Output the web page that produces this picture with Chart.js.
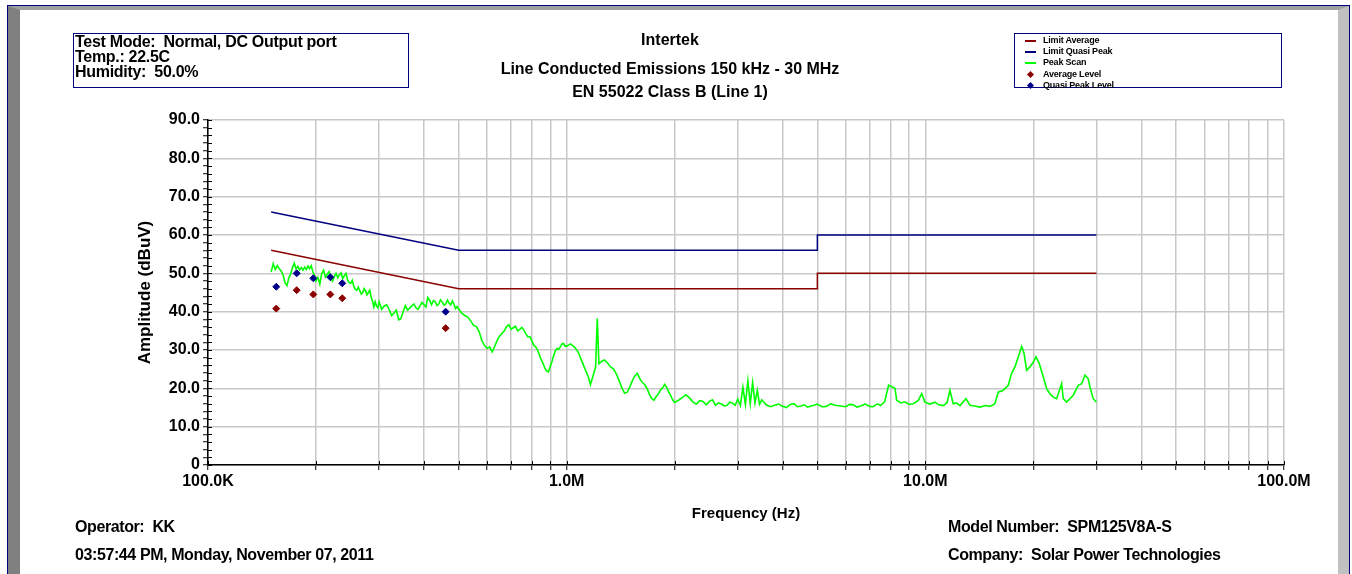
<!DOCTYPE html>
<html>
<head>
<meta charset="utf-8">
<title>Line Conducted Emissions</title>
<script src="https://cdn.jsdelivr.net/npm/chart.js@4.4.0/dist/chart.umd.min.js"></script>
<style>
  html, body { margin: 0; padding: 0; }
  body {
    width: 1352px; height: 574px; overflow: hidden; position: relative; background: #fff;
    font-family: "Liberation Sans", Arial, sans-serif; font-weight: bold; color: #000;
  }
  #frame {
    position: absolute; left: 7px; top: 5px; width: 1343px; height: 620px;
    box-sizing: border-box; border: 1px solid #000080; border-bottom: none;
  }
  #inner {
    position: absolute; left: 0; top: 0; right: 0; bottom: 0; background: #fff;
    border-top: 4px solid #a0a0a0; border-left: 12px solid #808080; border-right: 11px solid #c0c0c0;
  }
  #chart { position: absolute; left: 0; top: 0; }
  .box { position: absolute; border: 1px solid #000080; box-sizing: border-box; }
  #info { left: 73px; top: 33px; width: 336px; height: 55px; }
  #info div { font-size: 16px; line-height: 15px; letter-spacing: -0.3px; padding-left: 1px; white-space: nowrap; }
  .t { position: absolute; font-size: 16px; line-height: 18px; white-space: nowrap; }
  .c { left: 370px; width: 600px; text-align: center; }
  .b { letter-spacing: -0.4px; }
  #legend { left: 1014px; top: 33px; width: 268px; height: 55px; }
  #legend .row { position: absolute; left: 0; height: 11px; width: 260px; font-size: 9px; line-height: 11px; letter-spacing: -0.2px; }
  #legend .sym-line { position: absolute; left: 10px; top: 5px; width: 11px; height: 2px; }
  #legend .sym-dot { position: absolute; left: 13px; top: 3px; width: 5px; height: 5px; transform: rotate(45deg); }
  #legend .lbl { position: absolute; left: 28px; top: 0; white-space: nowrap; }
</style>
</head>
<body>
<div id="frame"><div id="inner"></div></div>
<canvas id="chart" width="1352" height="574"></canvas>

<div class="box" id="info">
  <div>Test Mode:&nbsp; Normal, DC Output port</div>
  <div>Temp.: 22.5C</div>
  <div>Humidity:&nbsp; 50.0%</div>
</div>

<div class="t c" style="top:31px">Intertek</div>
<div class="t c" style="top:60px">Line Conducted Emissions 150 kHz - 30 MHz</div>
<div class="t c" style="top:83px">EN 55022 Class B (Line 1)</div>

<div class="box" id="legend"></div>

<div class="t b" style="left:75px; top:518px">Operator:&nbsp; KK</div>
<div class="t b" style="left:75px; top:546px">03:57:44 PM, Monday, November 07, 2011</div>
<div class="t b" style="left:948px; top:518px">Model Number:&nbsp; SPM125V8A-S</div>
<div class="t b" style="left:948px; top:546px">Company:&nbsp; Solar Power Technologies</div>

<script>
// Peak scan: frequency in kHz, level in dBuV
const scanKHz = [
  150, 152, 154, 156, 158, 160, 162, 164, 166, 168,
  170, 172, 174, 176, 178, 180, 182, 184, 186, 188,
  190, 192, 194, 196, 198, 200, 202.5, 205, 207.5, 210,
  212.5, 215, 217.5, 220, 222.5, 225, 227.5, 230, 232.5, 235,
  237.5, 240, 242.5, 245, 247.5, 250, 252.5, 255, 257.5, 260,
  262.5, 265, 267.5, 270, 272.5, 275, 277.5, 280, 282.5, 285,
  287.5, 290, 292.5, 295, 297.5, 300, 305, 310, 315, 320,
  325, 330, 335, 340, 345, 350, 355, 360, 365, 370,
  375, 380, 385, 390, 395, 400, 405, 410, 415, 420,
  425, 430, 435, 440, 445, 450, 455, 460, 465, 470,
  475, 480, 485, 490, 495, 500, 510, 520, 530, 540,
  550, 560, 570, 580, 590, 600, 610, 620, 630, 640,
  650, 660, 670, 680, 690, 700, 710, 720, 730, 740,
  750, 760, 770, 780, 790, 800, 810, 820, 830, 840,
  850, 860, 870, 880, 890, 900, 910, 920, 930, 940,
  950, 960, 970, 980, 990, 1000, 1025, 1050, 1075, 1100,
  1125, 1150, 1165, 1204, 1217, 1230, 1250, 1275, 1300, 1325,
  1350, 1375, 1400, 1425, 1450, 1475, 1500, 1525, 1550, 1575,
  1600, 1625, 1650, 1675, 1700, 1725, 1750, 1775, 1800, 1825,
  1850, 1875, 1900, 1925, 1950, 1975, 2000, 2050, 2100, 2150,
  2200, 2250, 2300, 2350, 2400, 2450, 2500, 2550, 2600, 2650,
  2700, 2750, 2800, 2850, 2900, 2950, 3000, 3050, 3100, 3150,
  3200, 3250, 3300, 3350, 3400, 3450, 3500, 3600, 3700, 3800,
  3900, 4000, 4100, 4200, 4300, 4400, 4500, 4600, 4700, 4800,
  4900, 5000, 5150, 5300, 5450, 5600, 5800, 6000, 6150, 6300,
  6450, 6600, 6800, 7000, 7150, 7300, 7400, 7500, 7700, 7900,
  8230, 8320, 8550, 8770, 9000, 9250, 9550, 9770, 9970, 10300,
  10640, 10900, 11220, 11500, 11710, 11960, 12200, 12490, 12980, 13310,
  13700, 14200, 14700, 15140, 15630, 15970, 16490, 17030, 17400, 17780,
  18160, 18560, 18840, 19160, 19570, 19990, 20340, 20770, 21320, 21790,
  22250, 22730, 23230, 23990, 24240, 24770, 25300, 25840, 26690, 27280,
  27860, 28460, 28760, 29380, 30000
];
const peakScan = [
  50.3, 52.5, 51.0, 52.0, 51.2, 50.6, 49.5, 47.5, 46.8, 48.8,
  49.8, 51.5, 52.6, 51.2, 51.8, 50.9, 51.5, 50.8, 51.6, 51.0,
  51.9, 51.2, 52.0, 50.4, 49.5, 48.0, 49.0, 47.2, 49.9, 50.8,
  49.0, 49.7, 50.4, 48.6, 48.0, 49.2, 50.0, 48.8, 49.6, 50.1,
  48.6, 49.4, 50.0, 48.3, 47.6, 47.4, 48.2, 46.6, 45.8, 45.6,
  46.4, 45.5, 44.6, 45.0, 46.0, 45.4, 44.4, 45.0, 45.6, 43.8,
  42.8, 41.2, 42.6, 41.5, 41.0, 42.6, 40.6, 41.5, 41.8, 40.5,
  39.0, 39.6, 40.4, 37.9, 38.2, 40.0, 41.6, 40.4, 40.9, 41.5,
  42.0, 41.0, 40.6, 41.5, 42.4, 41.8, 41.2, 43.7, 43.0, 41.8,
  42.9, 42.6, 41.6, 42.0, 43.1, 42.5, 41.7, 42.0, 43.0, 42.2,
  41.8, 42.8, 42.0, 40.8, 41.3, 40.7, 39.6, 39.0, 38.6, 37.6,
  36.4, 36.1, 34.8, 32.5, 31.2, 30.4, 30.8, 29.5, 30.9, 32.5,
  33.6, 34.3, 35.0, 36.1, 36.6, 35.4, 35.8, 36.2, 35.0, 35.4,
  35.9, 35.2, 34.2, 33.4, 33.5, 32.4, 31.2, 30.8, 30.0, 28.6,
  27.4, 26.4, 25.2, 24.5, 24.3, 25.7, 27.0, 28.6, 29.8, 30.4,
  30.2, 30.8, 31.6, 31.7, 31.0, 31.0, 31.6, 30.8, 29.6, 27.3,
  25.0, 22.9, 21.0, 25.5, 38.2, 26.4, 27.0, 27.4, 26.6, 25.6,
  25.1, 23.8, 22.0, 20.2, 18.7, 19.0, 20.4, 22.0, 23.3, 23.9,
  22.5, 21.5, 21.0, 20.0, 18.5, 17.4, 16.9, 17.8, 18.5, 19.5,
  20.1, 21.0, 20.3, 19.1, 18.1, 17.0, 16.3, 16.9, 17.6, 18.3,
  17.5, 16.4, 15.9, 16.8, 16.6, 15.7, 16.6, 17.0, 15.6, 16.2,
  15.9, 15.4, 15.6, 16.4, 16.1, 15.6, 17.2, 15.5, 20.3, 15.8,
  22.0, 16.0, 21.5, 16.2, 19.5, 15.8, 17.0, 15.7, 15.2, 15.6,
  15.9, 15.3, 15.0, 15.8, 16.0, 15.2, 15.4, 15.7, 15.1, 15.4,
  15.6, 15.9, 15.2, 15.3, 16.0, 15.6, 15.4, 15.2, 15.8, 15.7,
  15.1, 15.4, 15.9, 15.3, 15.2, 15.8, 15.9, 15.5, 16.5, 20.8,
  20.0, 16.9, 16.2, 16.5, 15.8, 16.0, 16.8, 18.6, 16.4, 15.9,
  16.4, 15.7, 15.5, 16.3, 19.5, 16.0, 16.2, 15.5, 17.3, 15.6,
  15.4, 15.1, 15.5, 15.3, 16.0, 19.0, 19.5, 20.8, 23.9, 25.6,
  28.2, 30.9, 29.2, 24.7, 25.6, 26.8, 28.2, 26.5, 23.0, 19.9,
  18.6, 17.7, 17.3, 21.2, 17.3, 16.4, 17.3, 18.2, 20.8, 21.2,
  23.4, 22.5, 20.4, 17.3, 16.4
];

// EN 55022 class B limits (kHz / dBuV)
const limitKHz = [150, 500, 5000, 5000, 30000];
const limitAverage = [56, 46, 46, 50, 50];
const limitQuasiPeak = [66, 56, 56, 60, 60];

// measured final levels
const levelKHz = [155, 176.7, 196.6, 219.3, 236.8, 459.8];
const averageLevel = [40.8, 45.6, 44.5, 44.5, 43.5, 35.7];
const quasiPeakLevel = [46.5, 50.0, 48.7, 49.0, 47.4, 40.0];

// axis labels
const xTickLabels = ['100.0K', '1.0M', '10.0M', '100.0M'];
const yTickLabels = ['0', '10.0', '20.0', '30.0', '40.0', '50.0', '60.0', '70.0', '80.0', '90.0'];

function toPoints(khz, vals) {
  return khz.map((f, i) => ({ x: f * 1000, y: vals[i] }));
}

const font = { family: '"Liberation Sans", Arial, sans-serif', weight: 'bold' };

// short tick marks on the inner side of both axes (the "+" look of the original)
const innerTicks = {
  id: 'innerTicks',
  afterDraw(chart) {
    const c = chart.ctx, area = chart.chartArea;
    const xs = chart.scales.x, ys = chart.scales.y;
    c.save();
    c.strokeStyle = '#000';
    c.lineWidth = 1;
    c.beginPath();
    ys.ticks.forEach(t => {
      const py = Math.round(ys.getPixelForValue(t.value)) + 0.5;
      c.moveTo(area.left, py);
      c.lineTo(area.left + 4, py);
    });
    xs.ticks.forEach(t => {
      const px = Math.round(xs.getPixelForValue(t.value)) + 0.5;
      c.moveTo(px, area.bottom);
      c.lineTo(px, area.bottom - 4);
    });
    c.stroke();
    c.restore();
  }
};

const ctx = document.getElementById('chart').getContext('2d');
const chart = new Chart(ctx, {
  type: 'scatter',
  data: {
    datasets: [
      { label: 'Limit Average', data: toPoints(limitKHz, limitAverage), showLine: true,
        borderColor: '#8b0000', borderWidth: 1.5, pointRadius: 0, order: 1 },
      { label: 'Limit Quasi Peak', data: toPoints(limitKHz, limitQuasiPeak), showLine: true,
        borderColor: '#000080', borderWidth: 1.5, pointRadius: 0, order: 1 },
      { label: 'Peak Scan', data: toPoints(scanKHz, peakScan), showLine: true,
        borderColor: '#00ff00', borderWidth: 1.6, pointRadius: 0, order: 2 },
      { label: 'Average Level', data: toPoints(levelKHz, averageLevel), pointStyle: 'rectRot',
        pointRadius: 3.5, backgroundColor: '#8b0000', borderColor: '#8b0000', order: 0 },
      { label: 'Quasi Peak Level', data: toPoints(levelKHz, quasiPeakLevel), pointStyle: 'rectRot',
        pointRadius: 3.5, backgroundColor: '#00008b', borderColor: '#00008b', order: 0 }
    ]
  },
  options: {
    responsive: false,
    animation: false,
    layout: { padding: { left: 131, top: 120, right: 68, bottom: 47 } },
    plugins: { legend: { display: false }, tooltip: { enabled: false } },
    scales: {
      x: {
        type: 'logarithmic',
        min: 1e5,
        max: 1e8,
        afterFit: function(scale) { scale.height = 62; },
        afterBuildTicks: function(scale) {
          // 1..9 per decade, like the analyser grid
          const ticks = [];
          for (let dec = scale.min; dec < scale.max; dec *= 10) {
            for (let m = 1; m < 10; m++) ticks.push({ value: dec * m });
          }
          ticks.push({ value: scale.max });
          scale.ticks = ticks;
        },
        ticks: {
          autoSkip: false, maxRotation: 0, padding: 2, color: '#000',
          font: Object.assign({ size: 16 }, font),
          callback: function(value) {
            const e = Math.log10(value);
            return Math.abs(e - Math.round(e)) < 1e-9 ? xTickLabels[Math.round(e) - 5] : '';
          }
        },
        grid: { color: '#c8c8c8', lineWidth: 1.5, tickColor: '#000', tickLength: 5, tickWidth: 1 },
        border: { color: '#000', width: 1.5 },
        title: { display: true, text: 'Frequency (Hz)', color: '#000',
                 font: Object.assign({ size: 15 }, font), padding: { top: 4, bottom: 4 } }
      },
      y: {
        min: 0,
        max: 90,
        afterFit: function(scale) { scale.width = 77; },
        ticks: {
          stepSize: 2, autoSkip: false, padding: 3, color: '#000',
          font: Object.assign({ size: 16 }, font),
          callback: function(value) {
            return value % 10 === 0 ? yTickLabels[value / 10] : '';
          }
        },
        grid: {
          color: function(c) { return c.tick && c.tick.value % 10 === 0 ? '#c8c8c8' : 'rgba(0,0,0,0)'; },
          lineWidth: 1.5, tickColor: '#000', tickLength: 5, tickWidth: 1
        },
        border: { color: '#000', width: 1.5 },
        title: { display: true, text: 'Amplitude (dBuV)', color: '#000',
                 font: Object.assign({ size: 17 }, font), padding: { top: 4, bottom: 4 } }
      }
    }
  },
  plugins: [innerTicks]
});

// legend box built from the datasets
const legendBox = document.getElementById('legend');
chart.data.datasets.forEach(function(ds, i) {
  const row = document.createElement('div');
  row.className = 'row';
  row.style.top = (0.5 + i * 11.4) + 'px';
  const sym = document.createElement('span');
  sym.className = ds.showLine ? 'sym-line' : 'sym-dot';
  sym.style.background = ds.borderColor;
  const lbl = document.createElement('span');
  lbl.className = 'lbl';
  lbl.textContent = ds.label;
  row.appendChild(sym);
  row.appendChild(lbl);
  legendBox.appendChild(row);
});
</script>
</body>
</html>
